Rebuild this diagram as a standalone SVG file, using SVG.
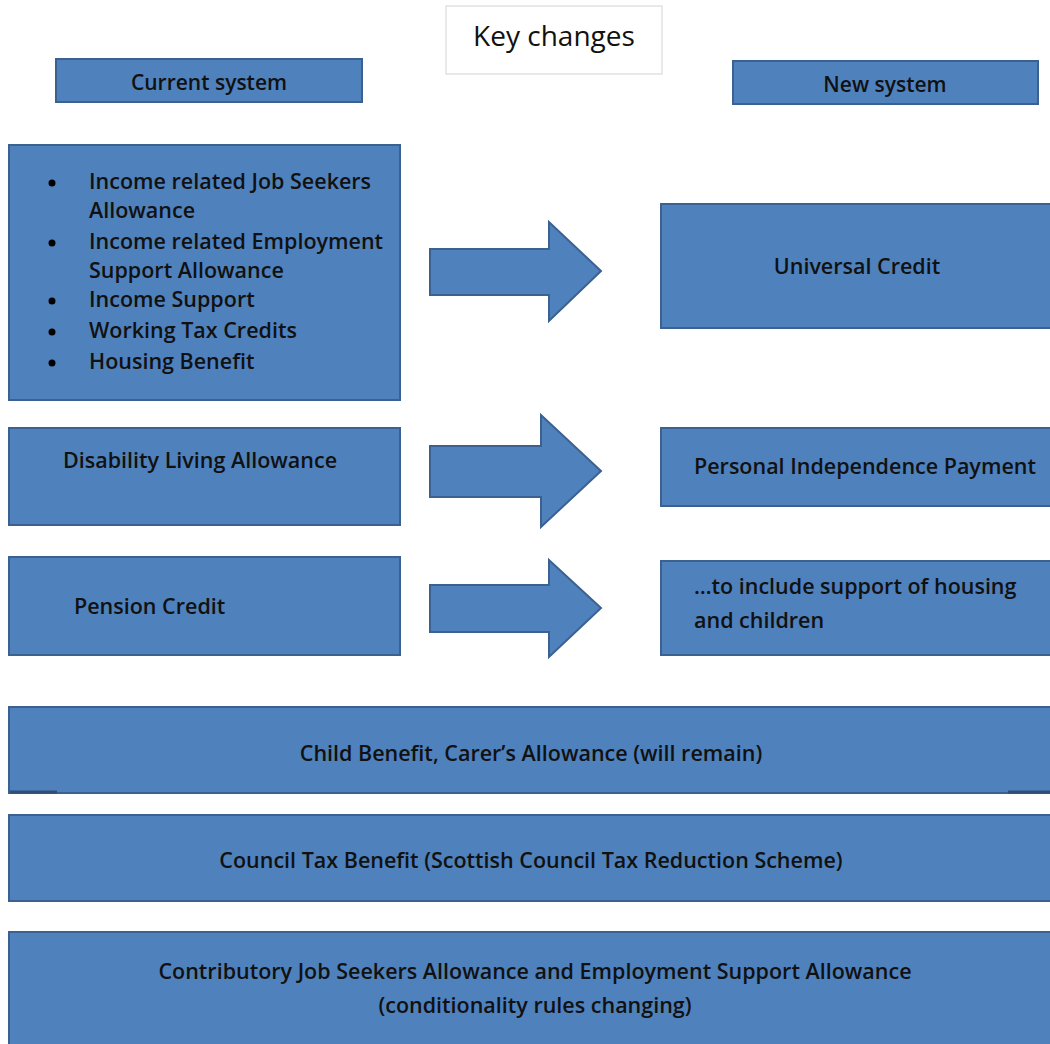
<svg xmlns="http://www.w3.org/2000/svg" width="1050" height="1044" viewBox="0 0 1050 1044">
<style>
.box{fill:#4F81BD;stroke:#3B6190;stroke-width:2}
.arrow{fill:#4F81BD;stroke:#3B6190;stroke-width:2;stroke-linejoin:miter}
text{font-family:"Open Sans","Noto Sans","Liberation Sans",sans-serif;font-size:21.5px;fill:#111;font-weight:600}
.c{text-anchor:middle}
</style>
<rect width="1050" height="1044" fill="#fff"/>
<g id="title"><rect x="446" y="6" width="216" height="68" fill="#fff" stroke="#e2e2e2" stroke-width="1.5"/><text class="c" x="554" y="46" style="font-size:28px;font-weight:500">Key changes</text></g>
<g id="current-system"><rect class="box" x="56" y="59" width="306" height="43"/><text class="c" x="209" y="90" style="font-size:21px">Current system</text></g>
<g id="new-system"><rect class="box" x="733" y="61" width="305" height="43"/><text class="c" x="885" y="92" style="font-size:21px">New system</text></g>
<g id="current-benefits"><rect class="box" x="9" y="145" width="391" height="255"/>
<g fill="#000"><circle cx="52" cy="183" r="3.5"/><circle cx="52" cy="243" r="3.5"/><circle cx="52" cy="301" r="3.5"/><circle cx="52" cy="332" r="3.5"/><circle cx="52" cy="363" r="3.5"/></g>
<text x="89" y="189">Income related Job Seekers</text>
<text x="89" y="218">Allowance</text>
<text x="89" y="249">Income related Employment</text>
<text x="89" y="278">Support Allowance</text>
<text x="89" y="307">Income Support</text>
<text x="89" y="338">Working Tax Credits</text>
<text x="89" y="369">Housing Benefit</text>
</g>
<g id="universal-credit"><rect class="box" x="661" y="204" width="395" height="124"/><text class="c" x="857" y="274">Universal Credit</text></g>
<g id="dla"><rect class="box" x="9" y="428" width="391" height="97"/><text x="63" y="468">Disability Living Allowance</text></g>
<g id="pip"><rect class="box" x="661" y="428" width="395" height="78"/><text x="694" y="474">Personal Independence Payment</text></g>
<g id="pension-credit"><rect class="box" x="9" y="557" width="391" height="98"/><text x="74" y="614">Pension Credit</text></g>
<g id="housing-children"><rect class="box" x="661" y="561" width="395" height="94"/><text x="694" y="594">…to include support of housing</text><text x="694" y="628">and children</text></g>
<g id="connectors">
<polygon class="arrow" points="430,249 549,249 549,222 601,271 549,321 549,295 430,295"/>
<polygon class="arrow" points="430,446 541,446 541,415 601,471 541,527 541,497 430,497"/>
<polygon class="arrow" points="430,585 549,585 549,560 601,608 549,657 549,632 430,632"/>
</g>
<g id="child-benefit"><rect class="box" x="9" y="707" width="1047" height="86"/><line x1="10" y1="792" x2="57" y2="792" stroke="#2f4f78" stroke-width="3"/><line x1="1008" y1="792" x2="1050" y2="792" stroke="#2f4f78" stroke-width="3"/><text class="c" x="531" y="761">Child Benefit, Carer’s Allowance (will remain)</text></g>
<g id="council-tax"><rect class="box" x="9" y="815" width="1047" height="86"/><text class="c" x="531" y="868">Council Tax Benefit (Scottish Council Tax Reduction Scheme)</text></g>
<g id="contributory"><rect class="box" x="9" y="932" width="1047" height="120"/><text class="c" x="535" y="979">Contributory Job Seekers Allowance and Employment Support Allowance</text><text class="c" x="535" y="1013">(conditionality rules changing)</text></g>
</svg>
